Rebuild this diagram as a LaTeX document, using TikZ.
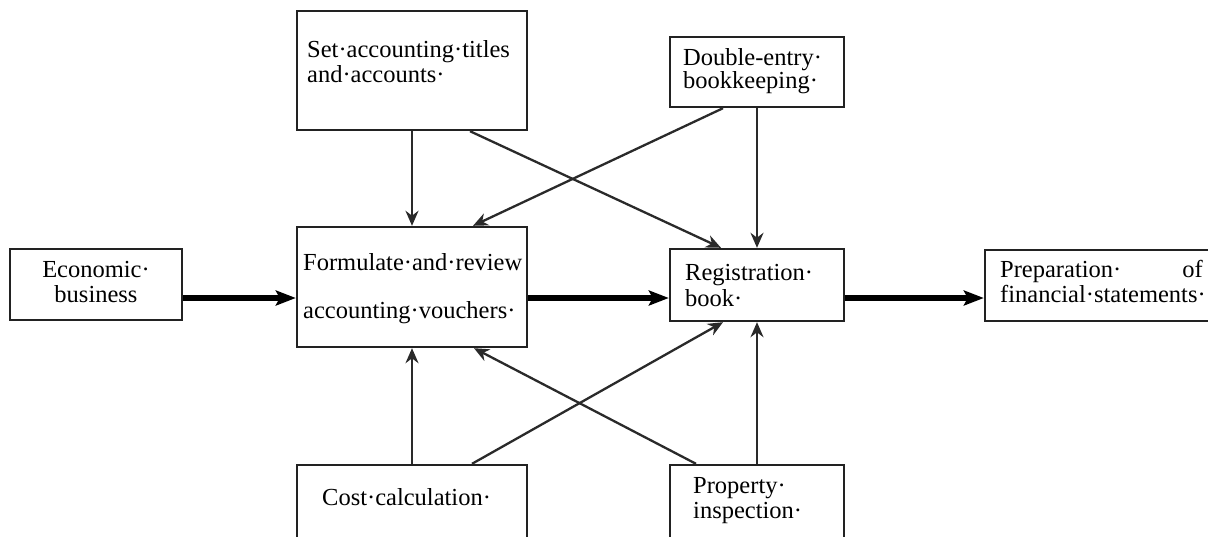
\documentclass[tikz,border=0pt]{standalone}
\usepackage{fontspec}
\setmainfont{Liberation Serif}
\usetikzlibrary{arrows.meta,calc}
\definecolor{ink}{HTML}{222222}
\definecolor{lineg}{HTML}{2a2a2a}
\tikzset{
  boxnode/.style={draw=ink, line width=2.4pt, rectangle, inner sep=0pt},
  txt/.style={inner sep=0pt, anchor=base west, text=black, font=\fontsize{24.5}{25}\selectfont},
  txtc/.style={txt, anchor=base},
  thin/.style={draw=lineg, line width=2.3pt, -{Stealth[length=15pt,width=13pt]}},
  thick/.style={draw=black, line width=5.5pt, -{Stealth[length=20pt,width=15pt,inset=4pt]}}
}
\begin{document}
\begin{tikzpicture}[x=1pt,y=-1pt]
\useasboundingbox (0,0) rectangle (1208,536);
% boxes
\node[boxnode, minimum width=172pt, minimum height=71pt] (econ) at (96,284.5) {};
\node[boxnode, minimum width=230pt, minimum height=119pt] (set) at (412,70.5) {};
\node[boxnode, minimum width=230pt, minimum height=120pt] (form) at (412,287) {};
\node[boxnode, minimum width=174pt, minimum height=70pt] (dbl) at (757,72) {};
\node[boxnode, minimum width=174pt, minimum height=72pt] (reg) at (757,285) {};
\node[boxnode, minimum width=225pt, minimum height=71pt] (prep) at (1097.5,285.5) {};
\node[boxnode, minimum width=230pt, minimum height=75pt] (cost) at (412,502.5) {};
\node[boxnode, minimum width=174pt, minimum height=75pt] (prop) at (757,502.5) {};
% texts
\node[txtc] (econ1) at (96,277) {Economic·};
\node[txtc] (econ2) at (96,302) {business};
\node[txt] (set1) at (307,57) {Set·accounting·titles};
\node[txt] (set2) at (307,82) {and·accounts·};
\node[txt] (form1) at (303,270) {Formulate·and·review};
\node[txt] (form2) at (303,318) {accounting·vouchers·};
\node[txt] (dbl1) at (683,65) {Double-entry·};
\node[txt] (dbl2) at (683,88) {bookkeeping·};
\node[txt] (reg1) at (685,280) {Registration·};
\node[txt] (reg2) at (685,306) {book·};
\node[txt] (prep1) at (1000,277) {Preparation·};
\node[txt, anchor=base east] (prep1b) at (1203,277) {of};
\node[txt] (prep2) at (1000,302) {financial·statements·};
\node[txt] (cost1) at (322,505) {Cost·calculation·};
\node[txt] (prop1) at (693,493) {Property·};
\node[txt] (prop2) at (693,518) {inspection·};
% thick flow arrows
\draw[thick] ($(econ.east)+(0,13.5)$) -- ($(form.west)+(0,11)$);
\draw[thick] ($(form.east)+(0,11)$) -- ($(reg.west)+(0,13)$);
\draw[thick] ($(reg.east)+(0,13)$) -- ($(prep.west)+(0,12.5)$);
% vertical arrows
\draw[thin] (set.south) -- (form.north);
\draw[thin] (dbl.south) -- (reg.north);
\draw[thin] (cost.north) -- (form.south);
\draw[thin] (prop.north) -- (reg.south);
% diagonal arrows
\draw[thin] ($(set.south)+(58,0)$) -- ($(reg.north)+(-36,0)$);
\draw[thin] ($(dbl.south)+(-34,0)$) -- ($(form.north)+(61,0)$);
\draw[thin] ($(cost.north)+(60,0)$) -- ($(reg.south)+(-34,0)$);
\draw[thin] ($(prop.north)+(-61,0)$) -- ($(form.south)+(62,0)$);
\end{tikzpicture}
\end{document}
